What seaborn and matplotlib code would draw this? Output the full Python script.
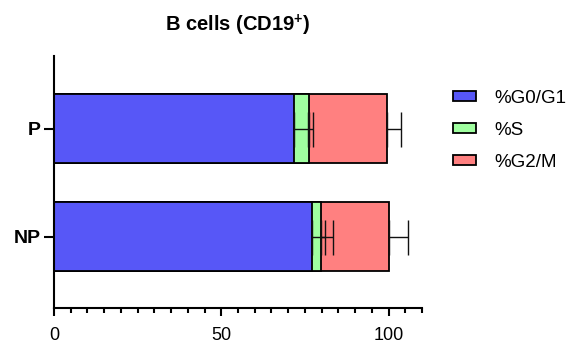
import matplotlib
matplotlib.use("Agg")
import matplotlib.pyplot as plt
import seaborn as sns
import numpy as np
import pandas as pd
from matplotlib.patches import Patch
from matplotlib.ticker import MultipleLocator

categories = ["P", "NP"]
phases = ["%G0/G1", "%S", "%G2/M"]
g0g1 = [71.8, 77.0]
s_phase = [4.5, 2.8]
g2m = [23.1, 20.3]
g0g1_sd = [4.0, 4.1]
s_sd = [1.0, 3.6]
g2m_sd = [4.2, 5.7]
colors = ["#5757F7", "#A0FFA0", "#FF8080"]

sns.set_theme(style="ticks")
plt.rcParams["font.family"] = ["Liberation Sans", "DejaVu Sans"]
plt.rcParams["mathtext.fontset"] = "custom"
plt.rcParams["mathtext.rm"] = "Liberation Sans"
plt.rcParams["mathtext.bf"] = "Liberation Sans:bold"
for k in ["text.color", "axes.labelcolor", "xtick.color", "ytick.color",
          "axes.edgecolor"]:
    plt.rcParams[k] = "black"

layers = [g0g1, s_phase, g2m]
sds = [g0g1_sd, s_sd, g2m_sd]
cum = np.cumsum(np.array(layers), axis=0)

fig = plt.figure(figsize=(5.69, 3.46), dpi=100)
ax = fig.add_axes([54/569, 1-308/346, (422-54)/569, (308-56)/346])

# draw cumulative bars from largest to smallest so they stack visually
for i in [2, 1, 0]:
    df = pd.DataFrame({"cat": categories, "val": cum[i]})
    sns.barplot(data=df, x="val", y="cat", orient="h", color=colors[i],
                saturation=1, width=0.637, edgecolor="black", linewidth=1.3,
                ax=ax, zorder=2)

ypos = np.arange(len(categories))
for i in range(3):
    ax.errorbar(cum[i], ypos, xerr=[np.zeros(len(categories)), sds[i]],
                fmt="none", ecolor="#111111", elinewidth=1.0, capsize=12.6,
                capthick=1.0, zorder=3)

ax.set_xlim(0, 110)
ax.set_ylim(1.656, -0.671)
ax.xaxis.set_major_locator(MultipleLocator(50))
ax.xaxis.set_minor_locator(MultipleLocator(5))
ax.set_xlabel("")
ax.set_ylabel("")
for side in ["top", "right"]:
    ax.spines[side].set_visible(False)
for side in ["left", "bottom"]:
    ax.spines[side].set_linewidth(1.5)
    ax.spines[side].set_color("black")
ax.tick_params(axis="x", which="major", length=6, width=1.5, labelsize=13,
               pad=7.5, colors="black")
ax.tick_params(axis="x", which="minor", length=3.6, width=1.5, colors="black")
ax.tick_params(axis="y", which="major", length=7.5, width=1.5, labelsize=14,
               pad=2, colors="black")
for lab in ax.get_yticklabels():
    lab.set_fontweight("bold")

ax.set_title(r"B cells (CD19$^{\mathbf{+}}$)", fontsize=14.5, fontweight="bold",
             pad=18, color="black")

handles = [Patch(facecolor=c, edgecolor="black", linewidth=1.3) for c in colors]
fig.legend(handles, phases, loc="upper left",
           bbox_to_anchor=(453/569, 1-90/346), frameon=False,
           fontsize=13.5, handlelength=1.2, handleheight=0.45,
           handletextpad=1.0, labelspacing=0.8, borderpad=0, borderaxespad=0)

fig.savefig("out.png", dpi=100)
